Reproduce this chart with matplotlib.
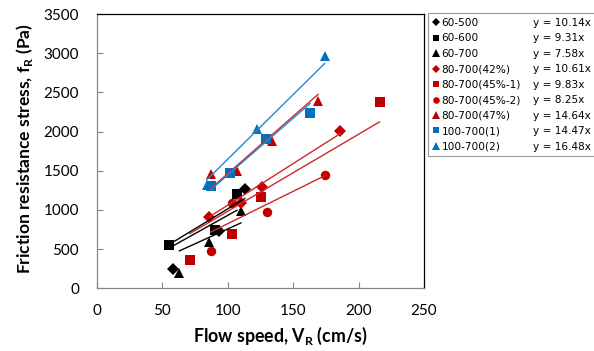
import matplotlib
matplotlib.use("Agg")
import matplotlib.pyplot as plt
from matplotlib.lines import Line2D
import numpy as np

plt.rcParams['font.family'] = ['Lato', 'DejaVu Sans']
plt.rcParams['mathtext.fontset'] = 'custom'
plt.rcParams['mathtext.rm'] = 'Lato'
plt.rcParams['mathtext.bf'] = 'Lato:bold'

labels = ["60-500", "60-600", "60-700", "80-700(42%)", "80-700(45%-1)",
          "80-700(45%-2)", "80-700(47%)", "100-700(1)", "100-700(2)"]
slopes = [10.14, 9.31, 7.58, 10.61, 9.83, 8.25, 14.64, 14.47, 16.48]

x_60_500 = [58, 93, 113]
y_60_500 = [250, 725, 1265]
x_60_600 = [55, 90, 107]
y_60_600 = [550, 740, 1205]
x_60_700 = [63, 86, 110]
y_60_700 = [200, 590, 985]
x_80_42 = [86, 110, 126, 186]
y_80_42 = [907, 1085, 1290, 2013]
x_80_45_1 = [71, 103, 125, 216]
y_80_45_1 = [361, 693, 1162, 2379]
x_80_45_2 = [87, 103, 130, 174]
y_80_45_2 = [472, 1085, 970, 1447]
x_80_47 = [87, 107, 134, 169]
y_80_47 = [1459, 1502, 1885, 2396]
x_100_1 = [87, 102, 129, 163]
y_100_1 = [1306, 1468, 1902, 2243]
x_100_2 = [84, 122, 174]
y_100_2 = [1319, 2035, 2958]

xs = [x_60_500, x_60_600, x_60_700, x_80_42, x_80_45_1, x_80_45_2, x_80_47, x_100_1, x_100_2]
ys = [y_60_500, y_60_600, y_60_700, y_80_42, y_80_45_1, y_80_45_2, y_80_47, y_100_1, y_100_2]

BLACK = '#000000'
RED = '#C00000'
BLUE = '#0070C0'
colors = [BLACK, BLACK, BLACK, RED, RED, RED, RED, BLUE, BLUE]
line_colors = [BLACK, BLACK, BLACK, '#D02828', '#D02828', '#D02828', '#D02828', '#2A86C8', '#2A86C8']
markers = ['D', 's', '^', 'D', 's', 'o', '^', 's', '^']
msizes = [5.8, 6.8, 7.8, 5.8, 6.8, 6.8, 7.8, 6.8, 7.8]

fig = plt.figure(figsize=(5.94, 3.51), dpi=100)
ax = fig.add_axes([97/594, 1-288.3/351, (424-97)/594, (288.3-14)/351])

handles = []
for x, y, c, lc, m, ms, k in zip(xs, ys, colors, line_colors, markers, msizes, slopes):
    h, = ax.plot(x, y, linestyle='none', marker=m, color=c, markersize=ms,
                 markeredgewidth=0, zorder=3)
    handles.append(h)
    xl = np.array([min(x), max(x)], dtype=float)
    ax.plot(xl, k*xl, color=lc, lw=1.0, zorder=4)

ax.set_xlim(0, 250)
ax.set_ylim(0, 3500)
ax.set_xticks(np.arange(0, 251, 50))
ax.set_yticks(np.arange(0, 3501, 500))
ax.tick_params(direction='in', length=4, width=0.8, color='#868686',
               labelsize=11, pad=13)
ax.tick_params(axis='x', pad=11)
for s in ['left', 'bottom']:
    ax.spines[s].set_color('#868686')
for s in ['top', 'right']:
    ax.spines[s].set_color('#000000')
for s in ax.spines.values():
    s.set_linewidth(0.9)

ax.set_xlabel(r'Flow speed, V$_\mathbf{R}$ (cm/s)', fontsize=12.8, fontweight='bold')
ax.set_ylabel(r'Friction resistance stress, f$_\mathbf{R}$ (Pa)', fontsize=12.6, fontweight='bold')
ax.xaxis.set_label_coords(0.56, -0.135)
ax.yaxis.set_label_coords(-0.19, 0.51)

# legend: two columns (series label, fitted equation)
blank = [Line2D([], [], linestyle='none', marker='none') for _ in labels]
eqs = ['y = {:.2f}x'.format(k) for k in slopes]
leg = fig.legend(handles + blank, labels + eqs, ncol=2,
                 loc='upper left', bbox_to_anchor=(428/594, 1-13/351),
                 prop={'family': 'DejaVu Sans', 'size': 7.6},
                 frameon=True, fancybox=False, edgecolor='#808080',
                 handlelength=0.6, handletextpad=0.25, columnspacing=0.3,
                 labelspacing=0.52, borderpad=0.45, borderaxespad=0,
                 markerscale=0.7)
leg.get_frame().set_linewidth(0.8)

fig.savefig('out.png', dpi=100)
